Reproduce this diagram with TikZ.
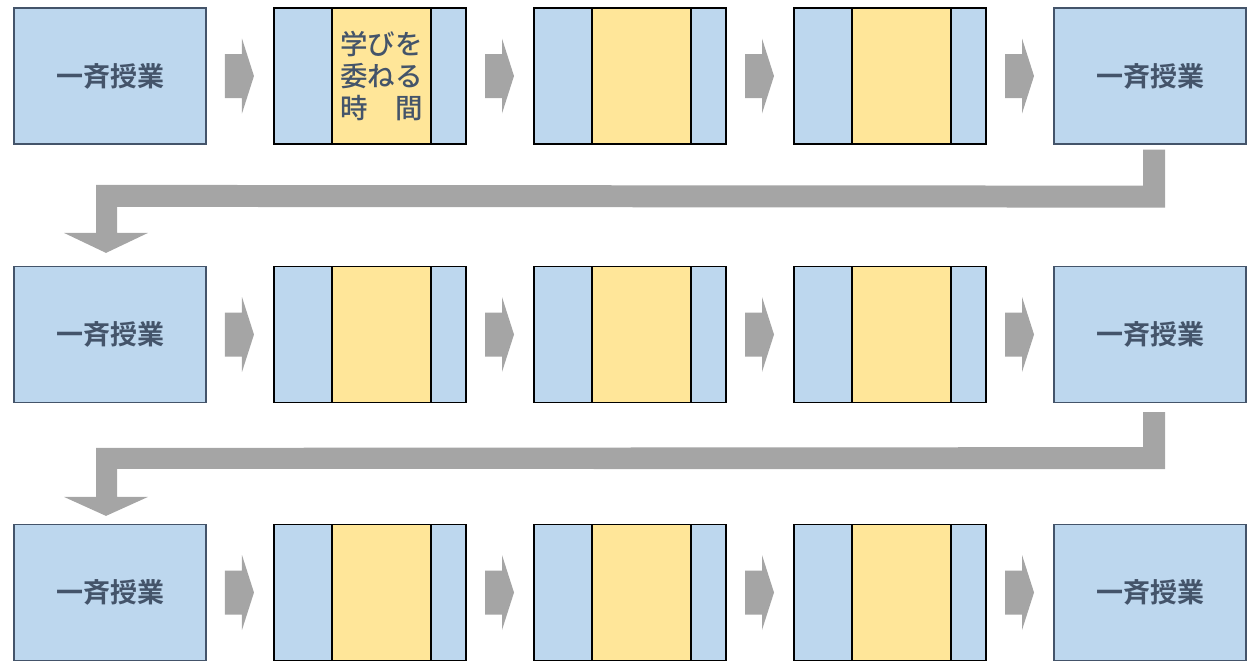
\documentclass[tikz,border=0pt]{standalone}
\usepackage{fontspec}
\setmainfont{Noto Sans CJK JP}[BoldFont={Noto Sans CJK JP Bold}]
\newfontfamily\jpmedium{Noto Sans CJK JP Medium}
\usetikzlibrary{calc}
\definecolor{boxblue}{HTML}{BDD7EE}
\definecolor{boxyellow}{HTML}{FFE699}
\definecolor{slate}{HTML}{44546A}
\definecolor{arrowgrey}{HTML}{A5A5A5}
\tikzset{
  bluebox/.style={draw=slate, line width=1.2pt, fill=boxblue, minimum width=192, minimum height=136, inner sep=0pt,
    text=slate, font=\fontsize{27}{30}\selectfont\bfseries},
  framebox/.style={draw=black, line width=1.3pt, fill=boxblue, minimum width=192, minimum height=136, inner sep=0pt},
  yellowbox/.style={draw=black, line width=1.3pt, fill=boxyellow, minimum width=99, minimum height=136, inner sep=0pt},
  rarrow/.pic={\fill[arrowgrey] (-15,-22) -- (2,-22) -- (2,-37.5) -- (14,0) -- (2,37.5) -- (2,22) -- (-15,22) -- cycle;}
}
\begin{document}
\begin{tikzpicture}[x=1pt,y=-1pt]
\useasboundingbox (0,0) rectangle (1250,662);
\foreach \r/\y in {1/76, 2/334.5, 3/592.5}{
  \node[bluebox] (r\r c1) at (110,\y) {一斉授業};
  \foreach \c/\x in {2/370, 3/630, 4/890}{
    \node[framebox] (r\r c\c) at (\x,\y) {};
  }
  \node[bluebox] (r\r c5) at (1150,\y) {一斉授業};
  \foreach \c/\x in {2/381.5, 3/641.5, 4/901.5}{
    \node[yellowbox] (y\r c\c) at (\x,\y) {};
  }
  \foreach \a/\b in {1/2, 2/3, 3/4, 4/5}{
    \pic at ($(r\r c\a.east)!0.5!(r\r c\b.west)$) {rarrow};
  }
}
\node[text=slate, font=\jpmedium\fontsize{27.5}{32}\selectfont, align=center, inner sep=0pt] (label) at ($(y1c2)+(0,0)$) {学びを\\委ねる\\時　間};
% elbow arrows
\fill[arrowgrey] ($(r1c5.south)+(-7,5)$) -- ($(r1c5.south)+(15,5)$) -- ($(r1c5.south)+(15,63)$)
  -- ($(r2c1.north)+(7,-59)$) -- ($(r2c1.north)+(7,-33)$) -- ($(r2c1.north)+(38,-33)$)
  -- ($(r2c1.north)+(-4,-13)$) -- ($(r2c1.north)+(-46,-33)$) -- ($(r2c1.north)+(-14,-33)$)
  -- ($(r2c1.north)+(-14,-81)$) -- ($(r1c5.south)+(-7,41)$) -- cycle;
\fill[arrowgrey] ($(r2c5.south)+(-7,9)$) -- ($(r2c5.south)+(15,9)$) -- ($(r2c5.south)+(15,66)$)
  -- ($(r3c1.north)+(7,-55)$) -- ($(r3c1.north)+(7,-27)$) -- ($(r3c1.north)+(38,-27)$)
  -- ($(r3c1.north)+(-4,-8)$) -- ($(r3c1.north)+(-46,-27)$) -- ($(r3c1.north)+(-14,-27)$)
  -- ($(r3c1.north)+(-14,-76)$) -- ($(r2c5.south)+(-7,44)$) -- cycle;
\end{tikzpicture}
\end{document}
